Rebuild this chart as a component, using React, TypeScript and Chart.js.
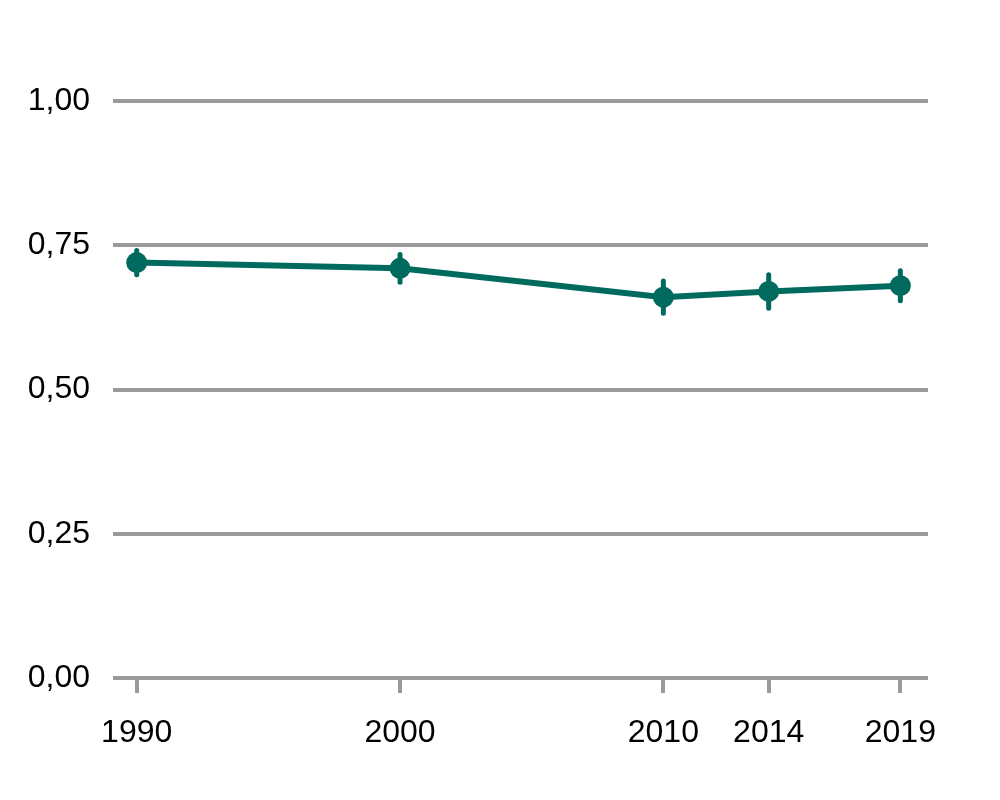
import React, { useEffect, useRef } from "react";
import { Chart, registerables } from "chart.js";

Chart.register(...registerables);

const years = [1990, 2000, 2010, 2014, 2019];
const values = [0.72, 0.71, 0.66, 0.67, 0.68];
const lowerBounds = [0.699, 0.686, 0.632, 0.641, 0.654];
const upperBounds = [0.741, 0.734, 0.688, 0.699, 0.706];
const yTicks = [0, 0.25, 0.5, 0.75, 1.0];

const COLOR = "#006A5F";
const GRID = "#9a9a9a";
const FONT = "'Liberation Sans', Arial, sans-serif";

const errorBarPlugin = {
  id: "errorBars",
  beforeDatasetsDraw(chart: any) {
    const ctx = chart.ctx;
    const x = chart.scales.x;
    const y = chart.scales.y;
    ctx.save();
    ctx.strokeStyle = COLOR;
    ctx.lineWidth = 5;
    ctx.lineCap = "round";
    years.forEach((yr, i) => {
      const px = x.getPixelForValue(yr);
      ctx.beginPath();
      ctx.moveTo(px, y.getPixelForValue(lowerBounds[i]));
      ctx.lineTo(px, y.getPixelForValue(upperBounds[i]));
      ctx.stroke();
    });
    ctx.restore();
  },
};

export default function App() {
  const ref = useRef<HTMLCanvasElement>(null);
  useEffect(() => {
    if (!ref.current) return;
    const chart = new Chart(ref.current, {
      type: "line",
      data: {
        datasets: [
          {
            data: years.map((yr, i) => ({ x: yr, y: values[i] })),
            borderColor: COLOR,
            backgroundColor: COLOR,
            borderWidth: 6,
            pointRadius: 10.5,
            pointBackgroundColor: COLOR,
            pointBorderWidth: 0,
            tension: 0,
          },
        ],
      },
      options: {
        animation: false,
        responsive: true,
        maintainAspectRatio: false,
        layout: { padding: { top: 101, right: 72, left: 0, bottom: 0 } },
        plugins: { legend: { display: false }, tooltip: { enabled: false } },
        scales: {
          x: {
            type: "linear",
            min: 1989.1,
            max: 2020.05,
            afterBuildTicks: (scale: any) => {
              scale.ticks = years.map((v) => ({ value: v }));
            },
            afterFit: (scale: any) => {
              scale.height = 122;
            },
            grid: {
              drawOnChartArea: false,
              drawTicks: true,
              tickLength: 15,
              color: GRID,
              lineWidth: 4,
            },
            border: { display: false },
            ticks: {
              autoSkip: false,
              maxRotation: 0,
              padding: 21,
              color: "#000",
              font: { family: FONT, size: 32 },
              callback: (v: any) => String(v),
            },
          },
          y: {
            min: 0,
            max: 1,
            afterBuildTicks: (scale: any) => {
              scale.ticks = yTicks.map((v) => ({ value: v }));
            },
            afterFit: (scale: any) => {
              scale.width = 113;
            },
            grid: {
              drawTicks: false,
              color: GRID,
              lineWidth: 4,
            },
            border: { display: false },
            ticks: {
              padding: 23,
              color: "#000",
              font: { family: FONT, size: 32 },
              callback: (v: any) => Number(v).toFixed(2).replace(".", ","),
            },
          },
        },
      },
      plugins: [errorBarPlugin],
    });
    return () => chart.destroy();
  }, []);
  return (
    <div style={{ position: "fixed", left: 0, top: 0, width: 1000, height: 800, background: "#fff" }}>
      <canvas ref={ref} />
    </div>
  );
}
